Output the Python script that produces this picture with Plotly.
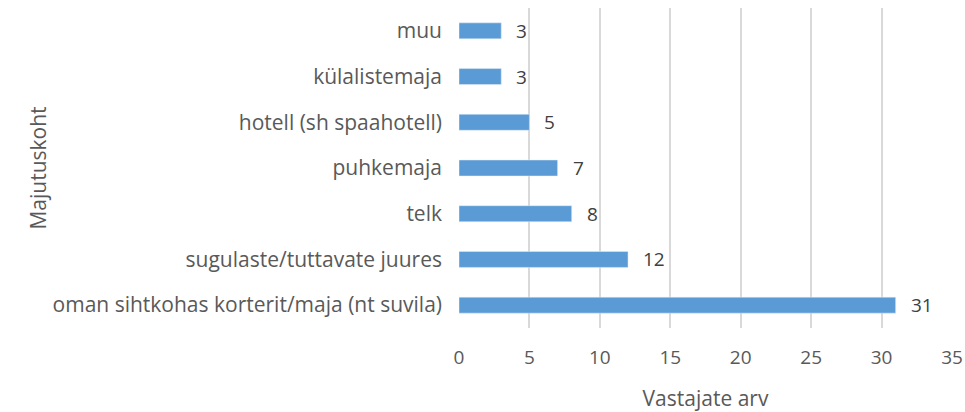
import plotly.graph_objects as go

categories = ["oman sihtkohas korterit/maja (nt suvila)", "sugulaste/tuttavate juures", "telk",
              "puhkemaja", "hotell (sh spaahotell)", "külalistemaja", "muu"]
values = [31, 12, 8, 7, 5, 3, 3]
x_ticks = [0, 5, 10, 15, 20, 25, 30, 35]

FONT = "Open Sans"
fig = go.Figure(go.Bar(
    x=values, y=categories, orientation="h",
    marker=dict(color="#5B9BD5"), width=0.35, hoverinfo="skip",
))
for v, c in zip(values, categories):
    fig.add_annotation(x=v, y=c, text=str(v), showarrow=False, xanchor="left", xshift=13,
                       font=dict(family=FONT, size=19, color="#404040"))
fig.update_layout(
    width=965, height=412,
    margin=dict(l=459, r=13, t=8, b=84),
    plot_bgcolor="white", paper_bgcolor="white",
    showlegend=False,
    font=dict(family=FONT, color="#595959", size=19),
    xaxis=dict(range=[0, 35], tickvals=x_ticks, showgrid=True, gridcolor="#D9D9D9", gridwidth=1.5,
               zeroline=False, showline=False, tickfont=dict(size=19, color="#595959"),
               automargin=False, ticklabelstandoff=16,
               title=dict(text="Vastajate arv", font=dict(size=21, color="#595959"), standoff=22)),
    yaxis=dict(showgrid=False, zeroline=False, showline=False, automargin=False,
               tickfont=dict(size=21, color="#595959"), ticklabelstandoff=16,
               title=dict(text="Majutuskoht", font=dict(size=21, color="#595959"), standoff=0)),
)
fig.write_html("out.html", config={"displayModeBar": False},
               post_script="document.body.style.margin='0';document.body.style.overflow='hidden';")
